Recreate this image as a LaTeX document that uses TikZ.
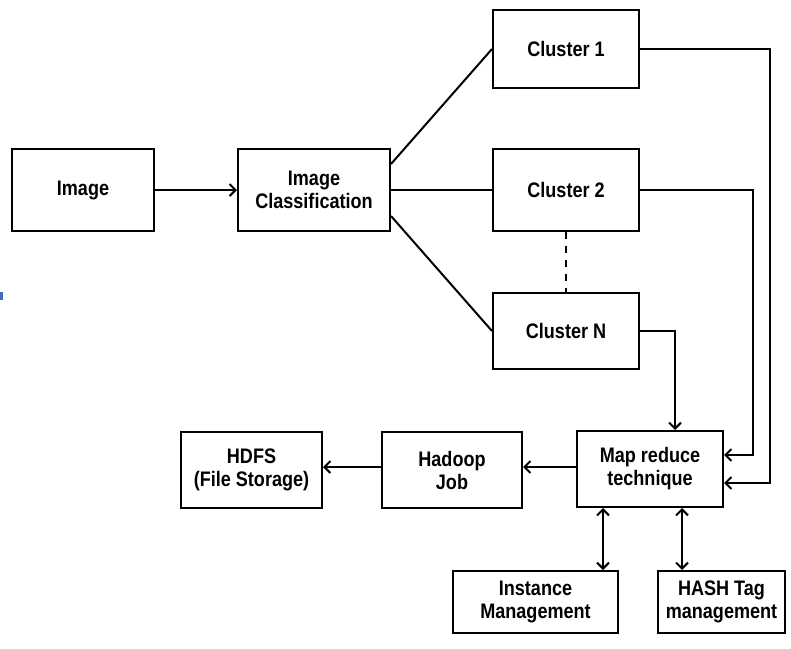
\documentclass[tikz,border=0pt]{standalone}
\usepackage{fontspec}
\setmainfont{Liberation Sans}[FakeStretch=0.86]
\usetikzlibrary{arrows.meta,calc}
\definecolor{markblue}{RGB}{60,110,180}
\begin{document}
\begin{tikzpicture}[x=1pt,y=-1pt,
  box/.style={draw,line width=2pt,align=center,inner sep=0pt,
    font=\fontsize{21}{23}\selectfont\bfseries},
  conn/.style={line width=2pt},
  arr/.style={conn,-{Straight Barb[length=6pt,width=12pt,line width=2pt]}},
  darr/.style={conn,{Straight Barb[length=6pt,width=12pt,line width=2pt]}-{Straight Barb[length=6pt,width=12pt,line width=2pt]}}]
\useasboundingbox (0,0) rectangle (791,648);
\fill[markblue] (0,292) rectangle (3,300);
\node[box,minimum width=142pt,minimum height=82pt] (img) at (83,190) {Image};
\node[box,minimum width=152pt,minimum height=82pt] (ic) at (314,190) {Image\\Classification};
\node[box,minimum width=146pt,minimum height=78pt] (c1) at (566,49) {Cluster 1};
\node[box,minimum width=146pt,minimum height=82pt] (c2) at (566,190) {Cluster 2};
\node[box,minimum width=146pt,minimum height=76pt] (cn) at (566,331) {Cluster N};
\node[box,minimum width=146pt,minimum height=76pt] (map) at (650,469) {Map reduce\\technique};
\node[box,minimum width=140pt,minimum height=76pt] (had) at (452,470) {Hadoop\\Job};
\node[box,minimum width=141pt,minimum height=76pt] (hdfs) at (251.5,470) {HDFS\\(File Storage)};
\node[box,minimum width=165pt,minimum height=62pt] (ins) at (535.5,602) {Instance\\Management};
\node[box,minimum width=127pt,minimum height=62pt] (hash) at (721.5,602) {HASH Tag\\management};
\coordinate (k1) at (770,483);
\coordinate (k2) at (753,455);
\coordinate (kn) at (675,0);
\coordinate (kh) at (0,467);
\coordinate (b1) at (603,0);
\coordinate (b2) at (682,0);
\draw[arr] (img) -- (ic);
\draw[conn] ($(ic.east)+(0,-26)$) -- (c1.west);
\draw[conn] (ic.east) -- (c2.west);
\draw[conn] ($(ic.east)+(0,26)$) -- (cn.west);
\draw[conn,dash pattern=on 7pt off 7pt] (c2.south) -- (cn.north);
\draw[arr] (cn.east) -| (map.north -| kn);
\draw[arr] (c2.east) -| (k2) -- (k2 -| map.east);
\draw[arr] (c1.east) -| (k1) -- (k1 -| map.east);
\draw[arr] (map.west |- kh) -- (had.east |- kh);
\draw[arr] (had.west |- kh) -- (hdfs.east |- kh);
\draw[darr] (map.south -| b1) -- (ins.north -| b1);
\draw[darr] (map.south -| b2) -- (hash.north -| b2);
\end{tikzpicture}
\end{document}
